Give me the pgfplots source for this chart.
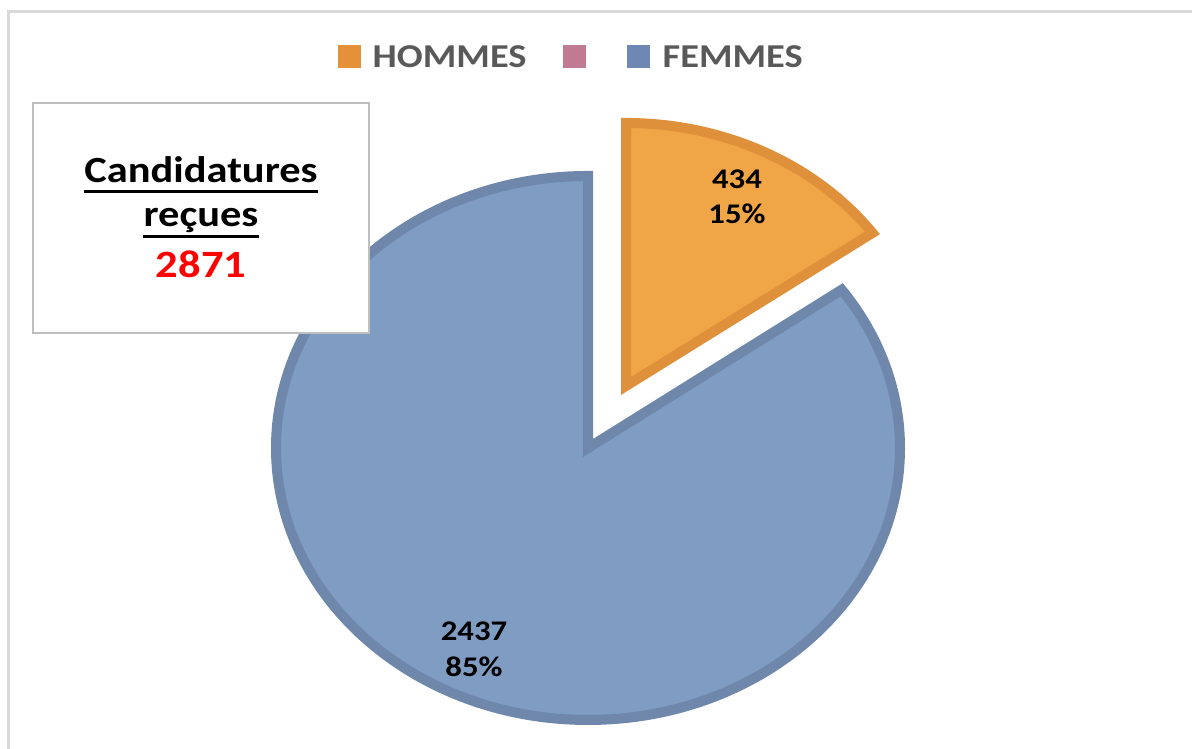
\documentclass[border=0pt]{standalone}
\usepackage{fontspec}
\setmainfont{Carlito}[FakeStretch=1.15]
\usepackage{pgfplots}
\pgfplotsset{compat=1.18}

\definecolor{hommesFill}{RGB}{240,165,70}
\definecolor{hommesLine}{RGB}{222,145,58}
\definecolor{hommesKey}{RGB}{228,145,58}
\definecolor{femmesFill}{RGB}{127,156,194}
\definecolor{femmesLine}{RGB}{110,135,171}
\definecolor{femmesKey}{RGB}{110,135,179}
\definecolor{pinkKey}{RGB}{192,123,147}
\definecolor{legendText}{RGB}{89,89,89}
\definecolor{frameGray}{RGB}{217,217,217}
\definecolor{boxGray}{RGB}{191,191,191}

% data
\def\nHommes{434}
\def\nFemmes{2437}

\begin{document}
\begin{tikzpicture}
  \pgfmathsetmacro{\total}{\nHommes+\nFemmes}
  \pgfmathsetmacro{\angH}{360*(\nHommes/\total)}
  \pgfmathsetmacro{\startH}{90-\angH}
  \pgfmathsetmacro{\endF}{450-\angH}
  \begin{axis}[
    scale only axis,
    width=119.2mm, height=74.9mm,
    xmin=0, xmax=1192, ymin=0, ymax=749,
    hide axis, clip=false
  ]
    % frame
    \draw[frameGray, line width=0.3mm] (axis cs:8.5,0) -- (axis cs:8.5,737.5) -- (axis cs:1192,737.5);
    % FEMMES slice
    \filldraw[fill=femmesFill, draw=femmesLine, line width=1mm, line join=miter]
      (axis cs:588,301) -- (axis cs:588,573)
      arc[start angle=90, end angle=\endF, x radius=31.2mm, y radius=27.2mm] -- cycle;
    % HOMMES slice (exploded)
    \filldraw[fill=hommesFill, draw=hommesLine, line width=1mm, line join=miter]
      (axis cs:626,363) -- (axis cs:626,626)
      arc[start angle=90, end angle=\startH, x radius=30.3mm, y radius=26.3mm] -- cycle;
    % data labels
    \begin{scope}[every node/.style={inner sep=0pt, anchor=base, font=\fontsize{8.1}{10}\selectfont\bfseries}]
      \node at (axis cs:737,560) {\nHommes};
      \node at (axis cs:737,525) {15\%};
      \node at (axis cs:474,108) {\nFemmes};
      \node at (axis cs:474,72) {85\%};
    \end{scope}
    % text box
    \draw[boxGray, line width=0.2mm, fill=white] (axis cs:33,416) rectangle (axis cs:369,646);
    \node[inner sep=0pt, anchor=base, font=\fontsize{10.5}{12}\selectfont\bfseries] (c1) at (axis cs:201,566) {Candidatures};
    \node[inner sep=0pt, anchor=base, font=\fontsize{10.5}{12}\selectfont\bfseries] (c2) at (axis cs:201,522) {reçues};
    \node[inner sep=0pt, anchor=base, text=red, font=\fontsize{11}{12}\selectfont\bfseries] at (axis cs:201,471) {2871};
    \draw[line width=0.25mm] ([yshift=-0.85mm]c1.base west) -- ([yshift=-0.85mm]c1.base east);
    \draw[line width=0.25mm] ([yshift=-0.95mm]c2.base west) -- ([yshift=-0.95mm]c2.base east);
    % legend
    \fill[hommesKey] (axis cs:338,681) rectangle (axis cs:361,704);
    \fill[pinkKey] (axis cs:563,681) rectangle (axis cs:586,704);
    \fill[femmesKey] (axis cs:627,681) rectangle (axis cs:650,704);
    \begin{scope}[every node/.style={inner sep=0pt, anchor=base west, text=legendText, font=\fontsize{9.5}{11}\selectfont\bfseries}]
      \node at (axis cs:372,681) {HOMMES};
      \node at (axis cs:662,681) {FEMMES};
    \end{scope}
  \end{axis}
  \pgfresetboundingbox
  \path[use as bounding box] (0,0) rectangle (119.2mm,74.9mm);
\end{tikzpicture}
\end{document}
